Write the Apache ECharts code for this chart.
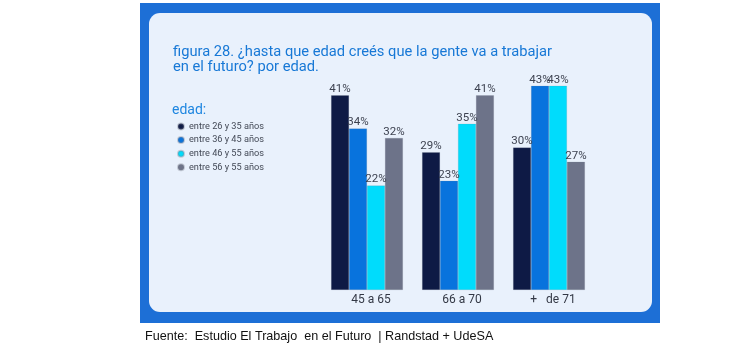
<!DOCTYPE html>
<html>
<head>
<meta charset="utf-8">
<script src="https://cdn.jsdelivr.net/npm/echarts@6/dist/echarts.min.js"></script>
<style>
  html, body { margin: 0; padding: 0; background: #ffffff; }
  #chart { width: 750px; height: 348px; }
</style>
</head>
<body>
<div id="chart"></div>
<script>
// Age ranges at which people expect to stop working
const categories = ['45 a 65', '66 a 70', '+   de 71'];

// Respondent age groups (legend)
const groupNames = ['entre 26 y 35 años', 'entre 36 y 45 años', 'entre 46 y 55 años', 'entre 56 y 55 años'];

// Percentages per respondent group, one value per category
const group26to35 = [41, 29, 30];
const group36to45 = [34, 23, 43];
const group46to55 = [22, 35, 43];
const group56plus = [32, 41, 27];

const groupColors = ['#0e1a45', '#0873dd', '#00dcfc', '#6d7389'];
const seriesValues = [group26to35, group36to45, group46to55, group56plus];

const chart = echarts.init(document.getElementById('chart'));

const series = groupNames.map((name, i) => ({
  name: name,
  type: 'bar',
  data: seriesValues[i],
  barGap: '0%',
  barCategoryGap: '21%',
  itemStyle: { color: groupColors[i], borderColor: 'rgba(120,125,140,0.35)', borderWidth: 0.5 },
  label: {
    show: true,
    position: 'top',
    distance: 0,
    formatter: '{c}%',
    color: '#3d4250',
    fontFamily: 'Roboto, "Noto Sans", sans-serif',
    fontSize: 11.5
  }
}));

chart.setOption({
  animation: false,
  graphic: [
    { type: 'rect', z: -10, shape: { x: 140, y: 3, width: 520, height: 320 }, style: { fill: '#1d6fd6' } },
    { type: 'rect', z: -9, shape: { x: 149, y: 13, width: 503, height: 299, r: 11 }, style: { fill: '#e9f1fc' } },
    {
      type: 'text', left: 172, top: 103,
      style: { text: 'edad:', fill: '#1e86e0', font: '14px Roboto, "Noto Sans", sans-serif' }
    },
    {
      type: 'text', left: 145, top: 330,
      style: { text: 'Fuente:  Estudio El Trabajo  en el Futuro  | Randstad + UdeSA', fill: '#111111', font: '12.6px "Liberation Sans", Arial, sans-serif' }
    }
  ],
  title: {
    text: 'figura 28. ¿hasta que edad creés que la gente va a trabajar\nen el futuro? por edad.',
    left: 168,
    top: 40,
    textStyle: {
      color: '#1778d6',
      fontFamily: 'Roboto, "Noto Sans", sans-serif',
      fontWeight: 'normal',
      fontSize: 14.7,
      lineHeight: 15
    }
  },
  legend: {
    orient: 'vertical',
    left: 172,
    top: 117,
    itemGap: 4.6,
    itemWidth: 6,
    itemHeight: 6,
    icon: 'circle',
    data: groupNames,
    textStyle: { color: '#444a57', fontSize: 9.2, fontFamily: 'Roboto, "Noto Sans", sans-serif', padding: [0, 0, 0, 0] }
  },
  grid: { left: 321.5, width: 273, top: 76.25, bottom: 58 },
  xAxis: {
    type: 'category',
    data: categories,
    axisLine: { show: false },
    axisTick: { show: false },
    axisLabel: {
      color: '#333845',
      fontSize: 12,
      margin: 4,
      padding: [0, 0, 0, 8],
      fontFamily: 'Roboto, "Noto Sans", sans-serif'
    }
  },
  yAxis: { type: 'value', min: 0, max: 45, show: false, splitLine: { show: false } },
  series: series
});
</script>
</body>
</html>
